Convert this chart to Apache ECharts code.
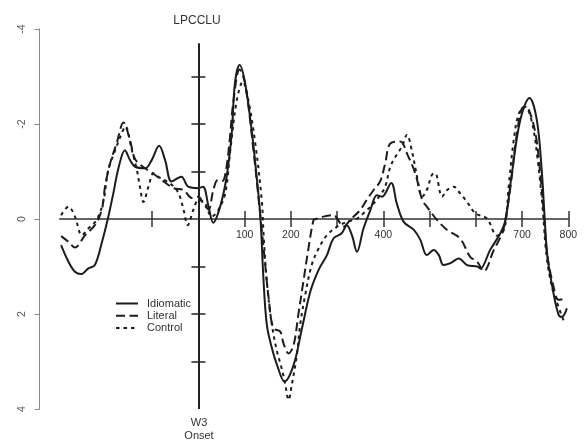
<!DOCTYPE html>
<html>
<head>
<meta charset="utf-8">
<script src="https://cdn.jsdelivr.net/npm/echarts@6/dist/echarts.min.js"></script>
<style>
html,body{margin:0;padding:0;background:#fff;}
#c{width:587px;height:442px;}
</style>
</head>
<body>
<div id="c"></div>
<script>
// ---- data (time in ms, amplitude in µV; negative plotted up) ----
const idiomaticT = [-297,-281,-267,-254,-238,-224,-209,-196,-184,-173,-159,-148,-137,-115,-101,-85,-72,-58,-37,-22,0,10,22,32,47,61,72,79,89,101,116,126,134,141,148,159,170,186,206,224,242,260,278,292,310,321,332,343,357,372,386,397,417,429,444,466,480,494,509,520,530,545,563,581,603,610,631,653,664,678,696,716,732,743,749,755,768,779,786,797];
const idiomaticV = [0.55,0.9,1.11,1.16,1.04,0.97,0.5,0.0,-0.54,-1.07,-1.45,-1.24,-1.1,-1.07,-1.24,-1.54,-1.24,-0.79,-0.89,-0.68,-0.65,-0.68,-0.26,0.08,-0.26,-0.89,-1.8,-2.86,-3.24,-2.86,-1.8,-0.89,-0.05,1.32,2.23,2.72,3.07,3.42,3.07,2.3,1.53,1.07,0.76,0.41,0.3,0.13,0.34,0.69,0.2,-0.19,-0.5,-0.47,-0.76,-0.33,0.06,0.23,0.44,0.76,0.65,0.76,0.97,0.93,0.83,0.97,1.0,1.04,0.65,0.3,0.02,-0.96,-2.08,-2.55,-2.08,-0.96,0.0,0.8,1.56,2.02,2.06,1.88];

const literalT = [-297,-281,-267,-245,-224,-209,-202,-191,-177,-162,-148,-137,-120,-100,-79,-54,-32,-14,0,12,22,32,42,52,60,67,76,89,101,119,137,141,152,162,177,184,195,206,216,227,238,249,254,270,292,314,328,350,364,379,393,404,415,437,451,469,484,494,516,538,566,588,603,617,639,657,664,675,689,703,713,729,740,747,754,768,779,797];
const literalV = [0.36,0.48,0.6,0.34,0.13,-0.19,-0.68,-1.17,-1.59,-2.03,-1.66,-1.26,-1.1,-0.97,-0.82,-0.65,-0.61,-0.44,-0.47,-0.3,-0.2,-0.6,-0.82,-0.8,-1.05,-1.6,-2.5,-3.15,-2.85,-1.45,0.23,0.62,1.67,2.3,2.37,2.62,2.83,2.65,2.02,1.32,0.62,0.02,0.0,-0.05,-0.08,0.16,0.02,-0.19,-0.4,-0.61,-0.79,-1.17,-1.59,-1.63,-1.38,-0.96,-0.4,-0.26,0.02,0.23,0.41,0.8,0.9,1.1,0.65,0.3,0.02,-0.68,-1.8,-2.36,-2.33,-1.8,-0.89,-0.12,0.72,1.42,1.7,1.67];

const controlT = [-297,-281,-267,-252,-238,-220,-205,-195,-180,-166,-158,-144,-133,-126,-119,-108,-97,-87,-68,-50,-40,-32,-23,-11,0,14,29,43,58,69,83,96,108,123,137,141,148,159,170,180,188,195,202,213,220,231,245,260,278,300,321,343,357,379,393,404,415,426,440,451,462,473,484,494,505,512,527,538,552,566,581,599,624,646,662,671,682,693,707,722,733,743,754,768,779,790,797];
const controlV = [-0.08,-0.26,-0.05,0.34,0.2,0.02,-0.4,-1.03,-1.45,-1.8,-1.95,-1.45,-1.03,-0.65,-0.36,-0.68,-0.96,-0.89,-0.79,-0.65,-0.47,-0.19,0.13,-0.19,-0.4,-0.33,-0.05,-0.19,-0.54,-1.45,-2.5,-2.89,-2.5,-1.59,-0.4,0.34,1.32,2.23,2.79,3.14,3.49,3.81,3.49,2.86,2.23,1.6,0.97,0.62,0.34,0.16,0.06,-0.01,-0.12,-0.33,-0.5,-0.68,-1.1,-1.31,-1.52,-1.77,-1.42,-0.89,-0.47,-0.61,-0.93,-0.96,-0.47,-0.61,-0.68,-0.54,-0.36,-0.12,-0.01,0.35,0.2,-0.68,-1.66,-2.22,-2.36,-2.01,-1.31,-0.4,0.86,1.56,1.85,2.13,2.16];

const seriesNames = ['Idiomatic','Literal','Control'];
const xTickValues = [-100,100,200,300,400,500,600,700,800];
const xLabelValues = [100,200,400,700,800];
const onsetTickValues = [-3,-2,-1,1,2,3];
const onsetLineRange = [-3.7,4];
const yLabelValues = [-4,-2,0,2,4];

function zip(t,v){ return t.map((x,i)=>[x,v[i]]); }

const FONT = '"Liberation Sans", Arial, sans-serif';
const INK = '#1c1c1c';

const chart = echarts.init(document.getElementById('c'), null, {renderer:'canvas'});

const X_MIN = -300, X_MAX = 800, Y_MIN = -4, Y_MAX = 4;
const GRID = {left:59.7, right:18.7, top:29, bottom:33};
const plotH = 442 - GRID.top - GRID.bottom;
// offset that moves a bottom axis up to the zero line of the inverted y scale
const zeroOffset = -plotH * (Y_MAX - 0) / (Y_MAX - Y_MIN);

const xBase = {
  type:'value', min:X_MIN, max:X_MAX, interval:100,
  splitLine:{show:false}
};
const yBase = {
  type:'value', min:Y_MIN, max:Y_MAX, interval:1, inverse:true,
  splitLine:{show:false}
};

const lineStyles = [
  {color:INK, width:2, type:'solid'},
  {color:INK, width:2, type:[9,4.5]},
  {color:INK, width:2, type:[3.5,4]}
];
const datasets = [zip(idiomaticT,idiomaticV), zip(literalT,literalV), zip(controlT,controlV)];

const series = seriesNames.map((name,i)=>({
  name, type:'line', data:datasets[i], xAxisIndex:0, yAxisIndex:0,
  symbol:'none', smooth:0.35, lineStyle:lineStyles[i], itemStyle:{color:INK},
  z: 3 - i
}));
series[0].markLine = {
  silent:true, symbol:['none','none'], animation:false,
  label:{show:false},
  lineStyle:{color:'#222', width:2, type:'solid'},
  data:[[{coord:[0,onsetLineRange[0]]},{coord:[0,onsetLineRange[1]]}]]
};

chart.setOption({
  animation:false,
  backgroundColor:'#fff',
  textStyle:{fontFamily:FONT},
  title:[
    {text:'LPCCLU', left:192, top:10, textAlign:'center',
     textStyle:{fontFamily:FONT, fontSize:12, fontWeight:'normal', color:'#333'}},
    {text:'W3\nOnset', left:194, top:411, textAlign:'center',
     textStyle:{fontFamily:FONT, fontSize:11, fontWeight:'normal', color:'#333', lineHeight:13.3}}
  ],
  legend:{
    orient:'vertical', left:115, top:298, padding:0,
    itemWidth:22, itemHeight:12, itemGap:1.3,
    selectedMode:false,
    itemStyle:{opacity:0, borderWidth:0},
    textStyle:{fontFamily:FONT, fontSize:11, color:'#333', padding:[0,0,0,4]},
    data:seriesNames
  },
  grid:Object.assign({containLabel:false}, GRID),
  xAxis:[
    Object.assign({}, xBase, {
      position:'bottom',
      axisLine:{show:true, onZero:true, onZeroAxisIndex:0, lineStyle:{color:'#333', width:1.5}},
      axisTick:{show:true, length:8, customValues:xTickValues, lineStyle:{color:'#333', width:1.5}},
      axisLabel:{show:false}
    }),
    Object.assign({}, xBase, {
      position:'top',
      axisLine:{show:false, onZero:true, onZeroAxisIndex:0},
      axisTick:{show:true, length:8, customValues:xTickValues, lineStyle:{color:'#333', width:1.5}},
      axisLabel:{show:false}
    }),
    Object.assign({}, xBase, {
      position:'bottom', offset:zeroOffset,
      axisLine:{show:false, onZero:false},
      axisTick:{show:false},
      axisLabel:{show:true, customValues:xLabelValues, margin:11, fontSize:10.5, color:'#333', fontFamily:FONT}
    })
  ],
  yAxis:[
    Object.assign({}, yBase, {
      position:'left', offset:20, interval:2,
      axisLine:{show:true, onZero:false, lineStyle:{color:'#888', width:1}},
      axisTick:{show:true, length:5, lineStyle:{color:'#888', width:1}},
      axisLabel:{show:true, rotate:90, margin:12, fontSize:10.5, color:'#555', fontFamily:FONT,
                 customValues:yLabelValues}
    }),
    Object.assign({}, yBase, {
      position:'left',
      axisLine:{show:false, onZero:true, onZeroAxisIndex:0},
      axisTick:{show:true, length:7, customValues:onsetTickValues, lineStyle:{color:'#222', width:1.5}},
      axisLabel:{show:false}
    }),
    Object.assign({}, yBase, {
      position:'right',
      axisLine:{show:false, onZero:true, onZeroAxisIndex:0},
      axisTick:{show:true, length:7, customValues:onsetTickValues, lineStyle:{color:'#222', width:1.5}},
      axisLabel:{show:false}
    })
  ],
  series
});
</script>
</body>
</html>
